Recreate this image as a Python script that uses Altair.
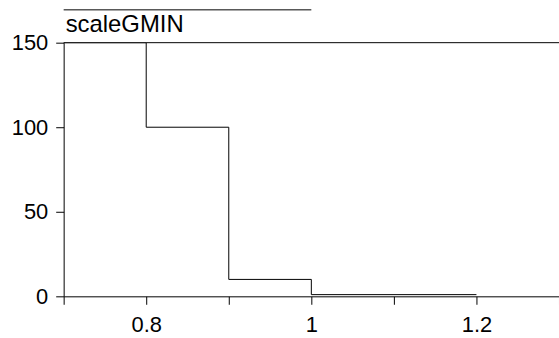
import altair as alt
import pandas as pd

x_vals = [0.7, 0.8, 0.9, 1.0, 1.2]
y_vals = [150, 100, 10, 1, 1]
x_ticks = [0.7, 0.8, 0.9, 1.0, 1.1, 1.2, 1.3]
y_ticks = [0, 50, 100, 150]
title_text = "scaleGMIN"

df = pd.DataFrame({"x": x_vals, "y": y_vals})
FONT = "Liberation Sans"

xs = alt.Scale(domain=[0.7, 1.3], nice=False, zero=False)
ys = alt.Scale(domain=[0, 150], nice=False)

line = alt.Chart(df).mark_line(interpolate="step-after", color="black", strokeWidth=1, clip=True).encode(
    x=alt.X("x:Q", scale=xs, axis=alt.Axis(
        values=x_ticks, title=None, grid=False, tickSize=8, tickColor="black",
        domainColor="black", labelFontSize=22, labelFont=FONT, labelColor="black",
        labelPadding=10,
        labelExpr="round(datum.value*10) % 2 == 0 ? format(datum.value, '~g') : ''",
        labelFlush=False, labelOverlap=False)),
    y=alt.Y("y:Q", scale=ys, axis=alt.Axis(
        values=y_ticks, title=None, grid=False, tickSize=8, tickColor="black",
        domainColor="black", labelFontSize=22, labelFont=FONT, labelColor="black",
        labelPadding=8, labelFlush=False, labelOverlap=False)),
)

top = alt.Chart(pd.DataFrame({"a": [0.7], "b": [1.3], "y": [150]})).mark_rule(color="black", strokeWidth=1).encode(
    x=alt.X("a:Q", scale=xs), x2="b:Q", y=alt.Y("y:Q", scale=ys)
)

overline = alt.Chart(pd.DataFrame({"a": [0.7], "b": [1.0]})).mark_rule(color="black", strokeWidth=1).encode(
    x=alt.X("a:Q", scale=xs), x2="b:Q", y=alt.value(-33)
)

title = alt.Chart(pd.DataFrame({"t": [title_text]})).mark_text(
    align="left", baseline="alphabetic", fontSize=24, font=FONT, color="black"
).encode(x=alt.value(2), y=alt.value(-11), text="t:N")

chart = alt.layer(line, top, overline, title).properties(
    width=498, height=255,
    padding={"left": 64, "top": 42, "right": 0, "bottom": 41},
    autosize=alt.AutoSizeParams(type="none"),
).configure_view(stroke=None).configure_axis(domainWidth=1, tickWidth=1)

chart.save("out.html", embed_options={"renderer": "svg", "actions": False})
